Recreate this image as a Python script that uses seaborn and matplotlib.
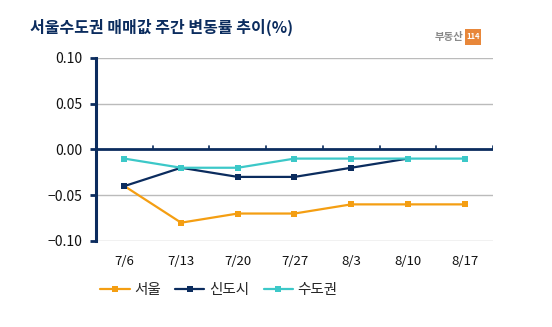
import matplotlib
matplotlib.use("Agg")
import matplotlib.pyplot as plt
import seaborn as sns
import pandas as pd
import numpy as np
from matplotlib.patches import Rectangle

weeks = ["7/6", "7/13", "7/20", "7/27", "8/3", "8/10", "8/17"]
seoul = [-0.04, -0.08, -0.07, -0.07, -0.06, -0.06, -0.06]
newtown = [-0.04, -0.02, -0.03, -0.03, -0.02, -0.01, np.nan]
capital = [-0.01, -0.02, -0.02, -0.01, -0.01, -0.01, -0.01]
series_names = ["서울", "신도시", "수도권"]
yticks = [0.10, 0.05, 0.00, -0.05, -0.10]
title = "서울수도권 매매값 주간 변동률 추이(%)"

sns.set_theme(style="white")
plt.rcParams['font.family'] = ['Noto Sans CJK KR', 'DejaVu Sans']

navy = "#0B2C5E"
colors = ["#F49E12", navy, "#3CC8C8"]

df = pd.DataFrame({"week": weeks * 3,
                   "value": seoul + newtown + capital,
                   "series": sum([[n] * len(weeks) for n in series_names], [])})
df["x"] = df["week"].map({w: i for i, w in enumerate(weeks)})

fig = plt.figure(figsize=(5.52, 3.27), dpi=100)
ax = fig.add_axes([0.174, 0.263, 0.719, 0.560])

for name, c in zip(series_names, colors):
    sub = df[df["series"] == name]
    sns.lineplot(data=sub, x="x", y="value", ax=ax, color=c, marker="s",
                 markersize=5, markeredgewidth=0, linewidth=1.6, label=name)

ax.set_xlim(-0.5, len(weeks) - 0.5)
ax.set_ylim(-0.10, 0.10)
ax.set_yticks(yticks)
ax.set_yticklabels([f"{v:.2f}".replace("-", "\u2212") for v in yticks], fontsize=10, color="#111111")
ax.set_xticks(range(len(weeks)))
ax.set_xticklabels(weeks, fontsize=9.5, color="#111111")
ax.tick_params(axis="x", length=0, pad=10)
ax.tick_params(axis="y", length=4, width=2, color=navy, direction="out", pad=6, left=True)
for v in yticks:
    if v != 0:
        ax.axhline(v, color="#BBBBBB", linewidth=1, zorder=0)
ax.axhline(0, color=navy, linewidth=2, zorder=1)
for b in np.arange(0.5, len(weeks) - 0.5 + 1e-9, 1.0):
    ax.plot([b, b], [0, 0.004], color=navy, linewidth=1.2, zorder=1)
for s in ["top", "right", "bottom"]:
    ax.spines[s].set_visible(False)
ax.spines["left"].set_color(navy)
ax.spines["left"].set_linewidth(2.2)
ax.set_xlabel("")
ax.set_ylabel("")

leg = ax.legend(loc="upper left", bbox_to_anchor=(-0.022, -0.16), ncol=3, frameon=False,
                fontsize=10.5, handlelength=2.0, columnspacing=1.0, handletextpad=0.3)

fig.text(0.055, 0.915, title, fontsize=11.5, fontweight="bold", color="#0B2C5E", va="center")
fig.text(0.813, 0.888, "부동산", fontsize=7.5, color="#8A8A8A", fontweight="bold", va="center", ha="center")
fig.patches.append(Rectangle((0.843, 0.862), 0.028, 0.05, transform=fig.transFigure,
                             facecolor="#E8873A", edgecolor="none"))
fig.text(0.857, 0.887, "114", fontsize=5.5, color="white", fontweight="bold", va="center", ha="center")

fig.savefig("out.png", dpi=100)
